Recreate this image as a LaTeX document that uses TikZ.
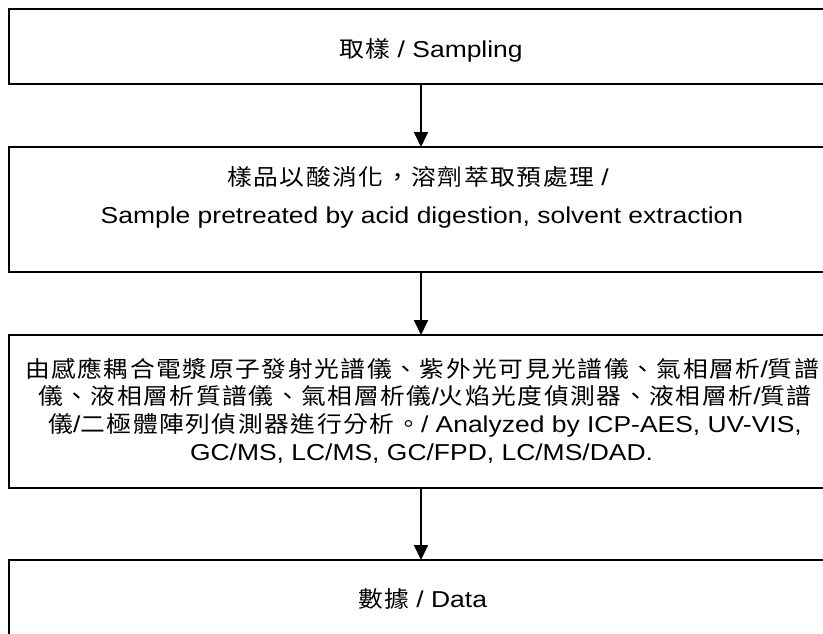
\documentclass[tikz,border=0pt]{standalone}
\usepackage{fontspec}
\setmainfont{Liberation Sans}[FakeStretch=1.15]
\newfontfamily\cjkfont{Noto Sans CJK TC}[FakeStretch=1.1,LetterSpace=7]
\newcommand\zh[1]{{\cjkfont\fontsize{22.5}{27.7}\selectfont #1}}
\usetikzlibrary{arrows.meta}
\begin{document}
\begin{tikzpicture}[x=1pt,y=-1pt,
  box/.style={draw,line width=1.8pt,minimum width=824pt,inner sep=0pt,outer sep=0pt},
  txt/.style={anchor=base,inner sep=0pt,outer sep=0pt,font=\fontsize{23}{27.7}\selectfont},
  arr/.style={line width=1.8pt,-{Triangle[width=14pt,length=15pt]}}]
\useasboundingbox (0,0) rectangle (823,633);
\clip (0,0) rectangle (823,633);
% boxes
\node[box,minimum height=75pt]  (b1) at (421,46.5) {};
\node[box,minimum height=125pt] (b2) at (421,209.5) {};
\node[box,minimum height=153pt] (b3) at (421,411.5) {};
\node[box,minimum height=80pt]  (b4) at (421,600) {};
% texts
\node[txt] (t1) at (431,57) {\zh{取樣} / Sampling};
\node[txt] (t2a) at (418,185) {\zh{樣品以酸消化，溶劑萃取預處理} /};
\node[txt] (t2b) at (422,223) {Sample pretreated by acid digestion, solvent extraction};
\node[txt] (t3a) at (422,377) {\zh{由感應耦合電漿原子發射光譜儀、紫外光可見光譜儀、氣相層析}/\zh{質譜}};
\node[txt] (t3b) at (425,404.5) {\zh{儀、液相層析質譜儀、氣相層析儀}/\zh{火焰光度偵測器、液相層析}/\zh{質譜}};
\node[txt] (t3c) at (425,432) {\zh{儀}/\zh{二極體陣列偵測器進行分析。}/ Analyzed by ICP-AES, UV-VIS,};
\node[txt] (t3d) at (421.5,460) {GC/MS, LC/MS, GC/FPD, LC/MS/DAD.};
\node[txt] (t4) at (422.5,607) {\zh{數據} / Data};
% connectors
\draw[arr] (b1.south) -- (b2.north);
\draw[arr] (b2.south) -- (b3.north);
\draw[arr] (b3.south) -- (b4.north);
\end{tikzpicture}
\end{document}
